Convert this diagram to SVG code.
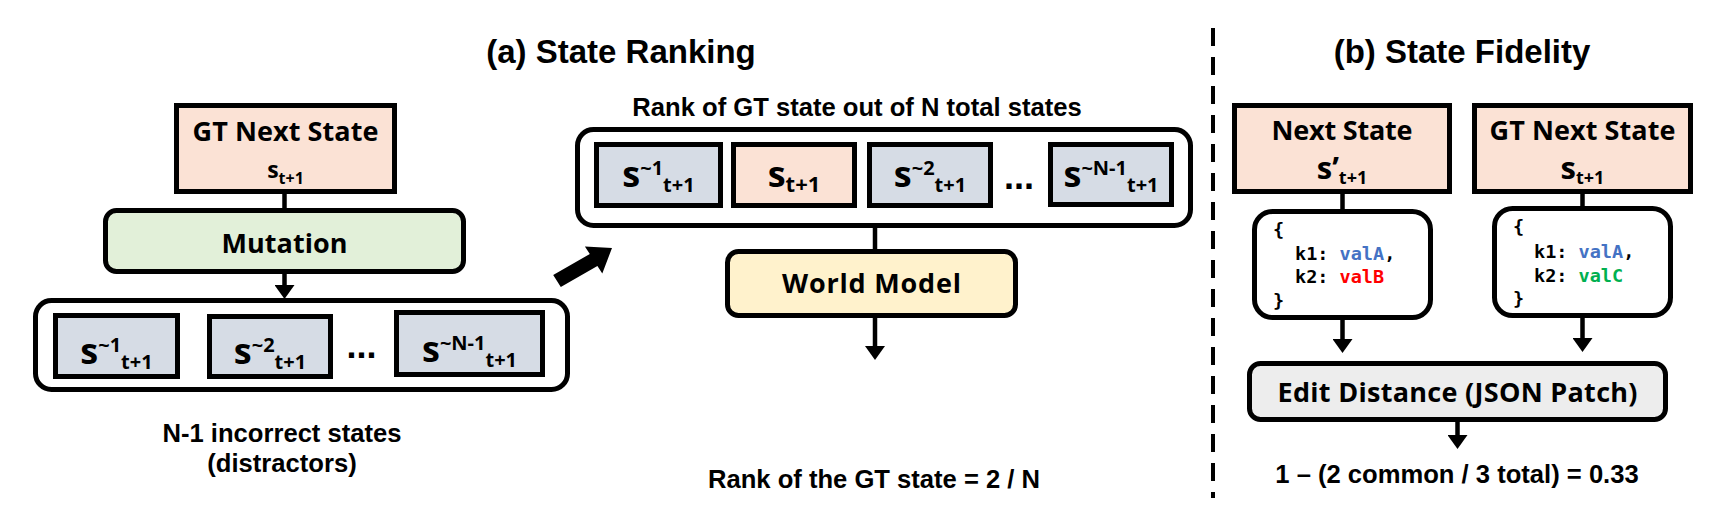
<svg xmlns="http://www.w3.org/2000/svg" width="1723" height="530" viewBox="0 0 1723 530">
<defs>
<style>
.bx{stroke:#000;stroke-width:5}
.peach{fill:#FBE2D5}
.grn{fill:#E2F0D9}
.gry{fill:#D6DCE5}
.yel{fill:#FFF2CC}
.edit{fill:#EDEDED}
.wht{fill:#fff}
.ln{stroke:#000;stroke-width:4.5;fill:none}
.cal{font-family:"Open Sans","DejaVu Sans",sans-serif;font-weight:700;font-size:27px;fill:#000;text-anchor:middle}
.hel{font-family:"Liberation Sans",Arial,sans-serif;font-weight:700;font-size:25.6px;fill:#000;text-anchor:middle}
.ttl{font-family:"Liberation Sans",Arial,sans-serif;font-weight:700;font-size:33px;fill:#000;text-anchor:middle}
.sv{font-family:"Open Sans","DejaVu Sans",sans-serif;font-weight:700;font-size:36px;fill:#000;text-anchor:middle}
.sm{font-size:20px}
.mono{font-family:"DejaVu Sans Mono","Liberation Mono",monospace;font-weight:700;font-size:18.5px;fill:#000}
.blue{fill:#4472C4}
.red{fill:#FF0000}
.green{fill:#00B050}
.dots{font-family:"Liberation Sans",Arial,sans-serif;font-weight:700;font-size:36px;fill:#000;text-anchor:middle}
</style>
<marker id="ah" markerUnits="userSpaceOnUse" markerWidth="14" markerHeight="20" refX="0" refY="10" orient="auto" viewBox="0 0 14 20">
<path d="M0,0 L14,10 L0,20 z" fill="#000"/>
</marker>
</defs>
<rect width="1723" height="530" fill="#fff"/>

<g id="title-a"><text class="ttl" x="621" y="63">(a) State Ranking</text></g>
<g id="title-b"><text class="ttl" x="1462" y="63">(b) State Fidelity</text></g>

<g id="divider"><line x1="1213" y1="28" x2="1213" y2="498" stroke="#000" stroke-width="4" stroke-dasharray="18 11"/></g>

<g id="connectors">
<line class="ln" x1="284.5" y1="194" x2="284.5" y2="210"/>
<line class="ln" x1="284.5" y1="274" x2="284.5" y2="285" marker-end="url(#ah)"/>
<line class="ln" x1="875" y1="227" x2="875" y2="250"/>
<line class="ln" x1="875" y1="318" x2="875" y2="346" marker-end="url(#ah)"/>
<line class="ln" x1="1342.5" y1="194" x2="1342.5" y2="210"/>
<line class="ln" x1="1582.5" y1="194" x2="1582.5" y2="207"/>
<line class="ln" x1="1342.5" y1="320" x2="1342.5" y2="339" marker-end="url(#ah)"/>
<line class="ln" x1="1582.5" y1="318" x2="1582.5" y2="338" marker-end="url(#ah)"/>
<line class="ln" x1="1457.5" y1="422" x2="1457.5" y2="435" marker-end="url(#ah)"/>
<polygon points="553.2,275.1 589.8,254.1 584.9,246.6 612,248 602.3,273.4 597.4,265.9 560.8,286.9" fill="#000"/>
</g>

<g id="gt-next-state-a">
<rect class="bx peach" x="176.5" y="105.5" width="218" height="86"/>
<text class="cal" x="285.5" y="141" textLength="186">GT Next State</text>
<text class="sv" x="285.5" y="178" style="font-size:23px">s<tspan style="font-size:16px" dy="6">t+1</tspan></text>
</g>

<g id="mutation">
<rect class="bx grn" x="105.5" y="210.5" width="358" height="61" rx="11"/>
<text class="cal" x="284.5" y="253" textLength="126">Mutation</text>
</g>

<g id="distractors">
<rect class="bx wht" x="35.5" y="300.5" width="532" height="89" rx="16"/>
<rect class="bx gry" x="55.5" y="315.5" width="122" height="61"/>
<text class="sv" x="116.5" y="364">s<tspan class="sm" dy="-12">~1</tspan><tspan class="sm" dy="17">t+1</tspan></text>
<rect class="bx gry" x="209.5" y="316.5" width="121" height="60"/>
<text class="sv" x="270" y="364">s<tspan class="sm" dy="-12">~2</tspan><tspan class="sm" dy="17">t+1</tspan></text>
<text class="dots" x="361.5" y="358">...</text>
<rect class="bx gry" x="396.5" y="312.5" width="146" height="62"/>
<text class="sv" x="469.5" y="362">s<tspan class="sm" dy="-12">~N-1</tspan><tspan class="sm" dy="17">t+1</tspan></text>
</g>
<g id="distractor-label">
<text class="hel" x="282" y="442">N-1 incorrect states</text>
<text class="hel" x="282" y="472">(distractors)</text>
</g>

<g id="ranking-set">
<text class="hel" x="857" y="116">Rank of GT state out of N total states</text>
<rect class="bx wht" x="577.5" y="129.5" width="613" height="96" rx="16"/>
<rect class="bx gry" x="596.5" y="144.5" width="124" height="61"/>
<text class="sv" x="658.5" y="187">s<tspan class="sm" dy="-12">~1</tspan><tspan class="sm" dy="17">t+1</tspan></text>
<rect class="bx peach" x="733.5" y="144.5" width="121" height="61"/>
<text class="sv" x="794" y="187">s<tspan style="font-size:22px" dy="5">t+1</tspan></text>
<rect class="bx gry" x="869.5" y="144.5" width="121" height="61"/>
<text class="sv" x="930" y="187">s<tspan class="sm" dy="-12">~2</tspan><tspan class="sm" dy="17">t+1</tspan></text>
<text class="dots" x="1019" y="189">...</text>
<rect class="bx gry" x="1050.5" y="144.5" width="121" height="60"/>
<text class="sv" x="1111" y="187">s<tspan class="sm" dy="-12">~N-1</tspan><tspan class="sm" dy="17">t+1</tspan></text>
</g>

<g id="world-model">
<rect class="bx yel" x="727.5" y="251.5" width="288" height="64" rx="11"/>
<text class="cal" x="871.5" y="293" textLength="179">World Model</text>
</g>
<g id="rank-result"><text class="hel" x="874" y="488">Rank of the GT state = 2 / N</text></g>

<g id="next-state">
<rect class="bx peach" x="1234.5" y="105.5" width="215" height="86"/>
<text class="cal" x="1342" y="140" textLength="141">Next State</text>
<text class="sv" x="1342" y="179" style="font-size:31px">s’<tspan style="font-size:18px" dy="5">t+1</tspan></text>
</g>

<g id="gt-next-state-b">
<rect class="bx peach" x="1474.5" y="105.5" width="216" height="86"/>
<text class="cal" x="1582.5" y="140" textLength="186">GT Next State</text>
<text class="sv" x="1582.5" y="179" style="font-size:31px">s<tspan style="font-size:18px" dy="5">t+1</tspan></text>
</g>

<g id="json-pred">
<rect class="bx wht" x="1254.5" y="211.5" width="176" height="106" rx="18"/>
<text class="mono" x="1273" y="236">{</text>
<text class="mono" x="1295" y="260">k1: <tspan class="blue">valA</tspan>,</text>
<text class="mono" x="1295" y="283">k2: <tspan class="red">valB</tspan></text>
<text class="mono" x="1273" y="307">}</text>
</g>

<g id="json-gt">
<rect class="bx wht" x="1494.5" y="208.5" width="176" height="107" rx="18"/>
<text class="mono" x="1513" y="233">{</text>
<text class="mono" x="1534" y="258">k1: <tspan class="blue">valA</tspan>,</text>
<text class="mono" x="1534" y="282">k2: <tspan class="green">valC</tspan></text>
<text class="mono" x="1513" y="305">}</text>
</g>

<g id="edit-distance">
<rect class="bx edit" x="1249.5" y="363.5" width="416" height="56" rx="11"/>
<text class="cal" x="1457.5" y="402" textLength="360">Edit Distance (JSON Patch)</text>
</g>
<g id="fidelity-result"><text class="hel" x="1457" y="483">1 – (2 common / 3 total) = 0.33</text></g>
</svg>
